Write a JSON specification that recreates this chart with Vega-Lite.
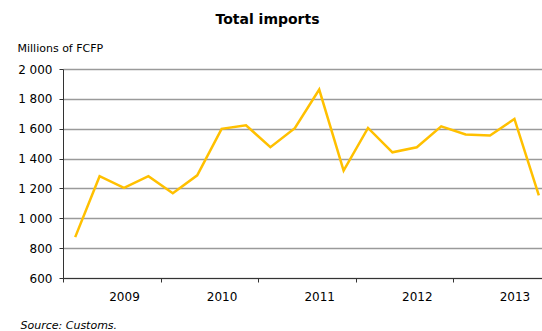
{
  "$schema": "https://vega.github.io/schema/vega-lite/v6.json",
  "autosize": {"type": "none"},
  "width": 479,
  "height": 209,
  "padding": {"left": 63, "top": 69, "right": 0, "bottom": 53},
  "background": "white",
  "title": {
    "text": "Total imports",
    "font": "DejaVu Sans",
    "fontSize": 14,
    "fontWeight": "bold",
    "color": "#000000",
    "anchor": "middle",
    "dx": -35,
    "offset": 4,
    "baseline": "alphabetic"
  },
  "config": {
    "view": {"stroke": null},
    "axis": {"labelFont": "DejaVu Sans", "titleFont": "DejaVu Sans", "labelColor": "#000000", "titleColor": "#000000"}
  },
  "data": {
    "values": [
      {"t": 2009.125, "imports": 874},
      {"t": 2009.375, "imports": 1282},
      {"t": 2009.625, "imports": 1204},
      {"t": 2009.875, "imports": 1282},
      {"t": 2010.125, "imports": 1168},
      {"t": 2010.375, "imports": 1288},
      {"t": 2010.625, "imports": 1599},
      {"t": 2010.875, "imports": 1623},
      {"t": 2011.125, "imports": 1476},
      {"t": 2011.375, "imports": 1603},
      {"t": 2011.625, "imports": 1862},
      {"t": 2011.875, "imports": 1320},
      {"t": 2012.125, "imports": 1605},
      {"t": 2012.375, "imports": 1442},
      {"t": 2012.625, "imports": 1476},
      {"t": 2012.875, "imports": 1616},
      {"t": 2013.125, "imports": 1561},
      {"t": 2013.375, "imports": 1554},
      {"t": 2013.625, "imports": 1666},
      {"t": 2013.875, "imports": 1153}
    ]
  },
  "mark": {"type": "line", "color": "#FFC000", "strokeWidth": 2.5, "clip": false},
  "encoding": {
    "x": {
      "field": "t",
      "type": "quantitative",
      "scale": {"domain": [2009, 2013.9075], "nice": false, "zero": false},
      "axis": {
        "values": [2009, 2010, 2011, 2012, 2013, 2009.625, 2010.625, 2011.625, 2012.625, 2013.625],
        "grid": false,
        "domainColor": "#333333",
        "domainWidth": 1,
        "tickColor": "#333333",
        "tickSize": 4,
        "tickOpacity": {"expr": "datum.value % 1 == 0 ? 1 : 0"},
        "labelExpr": "datum.value % 1 == 0 ? '' : toString(floor(datum.value))",
        "labelFontSize": 12,
        "labelPadding": 9,
        "labelOverlap": false,
        "labelFlush": false,
        "title": "Source: Customs.",
        "titleFontStyle": "italic",
        "titleFontWeight": "normal",
        "titleFontSize": 11,
        "titleAnchor": "start",
        "titleAlign": "left",
        "titleBaseline": "alphabetic",
        "titleX": -43,
        "titleY": 50
      }
    },
    "y": {
      "field": "imports",
      "type": "quantitative",
      "scale": {"domain": [600, 2000], "nice": false, "zero": false},
      "axis": {
        "values": [600, 800, 1000, 1200, 1400, 1600, 1800, 2000],
        "labelExpr": "replace(format(datum.value, ','), ',', ' ')",
        "labelFontSize": 12,
        "labelPadding": 7,
        "tickSize": 4,
        "tickColor": "#333333",
        "domainColor": "#333333",
        "domainWidth": 1,
        "grid": true,
        "gridColor": "#9a9a9a",
        "gridWidth": 1.5,
        "title": "Millions of FCFP",
        "titleFontSize": 11,
        "titleFontWeight": "normal",
        "titleAngle": 0,
        "titleAlign": "left",
        "titleAnchor": "start",
        "titleBaseline": "alphabetic",
        "titleX": -46,
        "titleY": -18
      }
    }
  }
}
